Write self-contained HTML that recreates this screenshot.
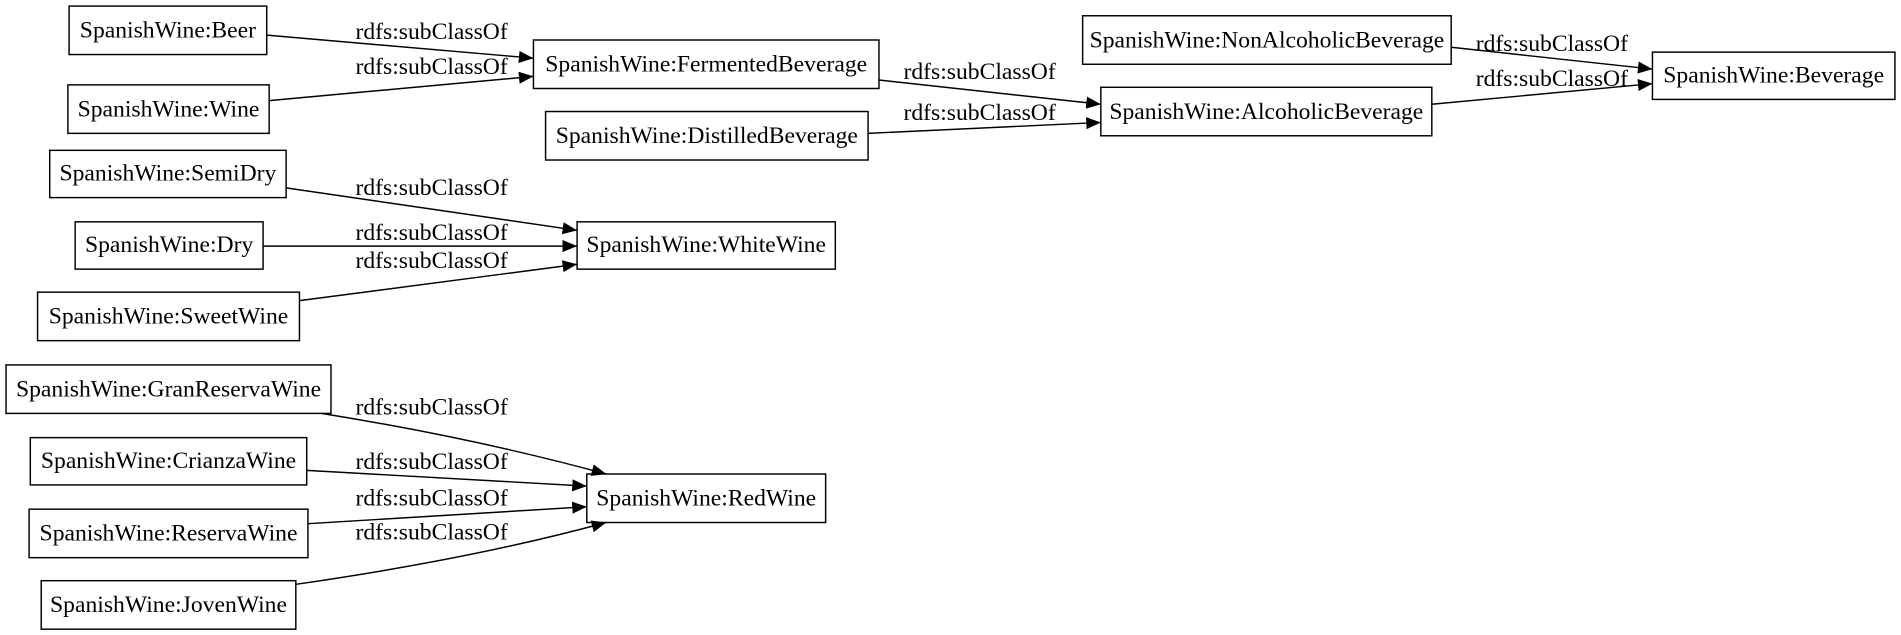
<!DOCTYPE html>
<html><head><meta charset="utf-8"><style>
html,body{margin:0;padding:0;background:#fff;width:1901px;height:635px;overflow:hidden}
svg{display:block}
text{font-family:"Liberation Serif",serif;font-size:19.5px;fill:#000}
</style></head><body>
<svg width="1901" height="635" viewBox="0 0 1568 523.8" preserveAspectRatio="none" xmlns="http://www.w3.org/2000/svg">
<defs><marker id="a" markerWidth="12" markerHeight="10" refX="12" refY="5" orient="auto" markerUnits="userSpaceOnUse"><path d="M0,0 L12,5 L0,10 z" fill="#000"/></marker></defs>
<g fill="none" stroke="#000" stroke-width="1.2">
<rect x="57" y="5" width="163" height="40"/>
<rect x="56" y="70" width="166" height="40"/>
<rect x="440" y="33" width="285" height="40"/>
<rect x="450" y="92" width="266" height="40"/>
<rect x="41" y="124" width="195" height="39"/>
<rect x="62" y="183" width="155" height="39"/>
<rect x="31" y="241" width="216" height="40"/>
<rect x="476" y="183" width="213" height="39"/>
<rect x="893" y="13" width="304" height="40"/>
<rect x="908" y="72" width="273" height="40"/>
<rect x="1363" y="43" width="200" height="39"/>
<rect x="5" y="301" width="268" height="40"/>
<rect x="25" y="361" width="228" height="39"/>
<rect x="24" y="420" width="230" height="40"/>
<rect x="34" y="479" width="210" height="40"/>
<rect x="484" y="391" width="197" height="40"/>
</g>
<g fill="none" stroke="#000" stroke-width="1.2" marker-end="url(#a)">
<path d="M220,29 L440,48"/>
<path d="M222,83 L440,63"/>
<path d="M725,66 L908,86"/>
<path d="M716,110 L908,101"/>
<path d="M1197,39 L1363,57"/>
<path d="M1181,86 L1363,69"/>
<path d="M236,155 L476,190"/>
<path d="M217,203 L476,203"/>
<path d="M247,248 L476,218"/>
<path d="M265,341 Q390,361 500,391"/>
<path d="M253,388 L484,401"/>
<path d="M254,432 L484,418"/>
<path d="M244,482 Q390,461 500,431"/>
</g>
<g text-anchor="middle">
<text x="138.5" y="31">SpanishWine:Beer</text>
<text x="139" y="96">SpanishWine:Wine</text>
<text x="582.5" y="59">SpanishWine:FermentedBeverage</text>
<text x="583" y="118">SpanishWine:DistilledBeverage</text>
<text x="138.5" y="149">SpanishWine:SemiDry</text>
<text x="139.5" y="208">SpanishWine:Dry</text>
<text x="139" y="267">SpanishWine:SweetWine</text>
<text x="582.5" y="208">SpanishWine:WhiteWine</text>
<text x="1045" y="39">SpanishWine:NonAlcoholicBeverage</text>
<text x="1044.5" y="98">SpanishWine:AlcoholicBeverage</text>
<text x="1463" y="68">SpanishWine:Beverage</text>
<text x="139" y="327">SpanishWine:GranReservaWine</text>
<text x="139" y="386">SpanishWine:CrianzaWine</text>
<text x="139" y="446">SpanishWine:ReservaWine</text>
<text x="139" y="505">SpanishWine:JovenWine</text>
<text x="582.5" y="417">SpanishWine:RedWine</text>
<text x="356" y="32">rdfs:subClassOf</text>
<text x="356" y="61">rdfs:subClassOf</text>
<text x="808" y="65">rdfs:subClassOf</text>
<text x="808" y="99">rdfs:subClassOf</text>
<text x="1280" y="42">rdfs:subClassOf</text>
<text x="1280" y="71">rdfs:subClassOf</text>
<text x="356" y="161">rdfs:subClassOf</text>
<text x="356" y="198">rdfs:subClassOf</text>
<text x="356" y="221">rdfs:subClassOf</text>
<text x="356" y="342">rdfs:subClassOf</text>
<text x="356" y="387">rdfs:subClassOf</text>
<text x="356" y="417">rdfs:subClassOf</text>
<text x="356" y="445">rdfs:subClassOf</text>
</g>
</svg>
</body></html>
